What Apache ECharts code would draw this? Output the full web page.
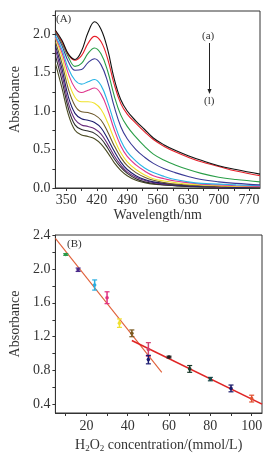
<!DOCTYPE html>
<html>
<head>
<meta charset="utf-8">
<script src="https://cdn.jsdelivr.net/npm/echarts@6/dist/echarts.min.js"></script>
<style>
html,body{margin:0;padding:0;background:#fff;}
#c{width:277px;height:455px;}
</style>
</head>
<body>
<div id="c"></div>
<script>
// ---- Panel A: UV-vis spectra ----
const wavelength = [325, 340, 355, 370, 385, 400, 415, 430, 445, 460, 475, 490, 510, 530, 550, 575, 600, 630, 660, 700, 740, 795];
const curveA = [2.05, 1.92, 1.74, 1.67, 1.78, 2.02, 2.16, 2.06, 1.80, 1.42, 1.15, 1.00, 0.87, 0.76, 0.65, 0.56, 0.49, 0.42, 0.36, 0.29, 0.24, 0.18];
const curveB = [2.04, 1.90, 1.73, 1.66, 1.72, 1.88, 1.97, 1.90, 1.68, 1.35, 1.10, 0.96, 0.84, 0.73, 0.63, 0.54, 0.47, 0.40, 0.34, 0.28, 0.22, 0.16];
const curveC = [2.03, 1.88, 1.70, 1.58, 1.62, 1.75, 1.82, 1.74, 1.52, 1.20, 0.95, 0.80, 0.66, 0.54, 0.44, 0.36, 0.30, 0.24, 0.19, 0.14, 0.11, 0.08];
const curveD = [2.02, 1.85, 1.64, 1.53, 1.54, 1.63, 1.68, 1.60, 1.38, 1.06, 0.80, 0.64, 0.50, 0.40, 0.32, 0.25, 0.20, 0.15, 0.11, 0.08, 0.06, 0.04];
const curveE = [1.98, 1.80, 1.55, 1.40, 1.35, 1.38, 1.41, 1.33, 1.12, 0.85, 0.62, 0.47, 0.35, 0.26, 0.20, 0.15, 0.11, 0.08, 0.06, 0.05, 0.04, 0.03];
const curveF = [1.96, 1.76, 1.48, 1.30, 1.24, 1.27, 1.30, 1.22, 1.02, 0.76, 0.55, 0.41, 0.30, 0.22, 0.16, 0.12, 0.09, 0.07, 0.05, 0.04, 0.03, 0.02];
const curveG = [1.95, 1.70, 1.38, 1.18, 1.12, 1.12, 1.10, 1.02, 0.85, 0.64, 0.46, 0.34, 0.24, 0.17, 0.12, 0.09, 0.07, 0.05, 0.04, 0.03, 0.02, 0.02];
const curveH = [1.90, 1.62, 1.28, 1.07, 0.99, 0.98, 0.95, 0.88, 0.73, 0.55, 0.40, 0.29, 0.20, 0.14, 0.10, 0.07, 0.05, 0.04, 0.03, 0.02, 0.02, 0.01];
const curveI = [1.85, 1.55, 1.18, 0.97, 0.90, 0.88, 0.85, 0.78, 0.64, 0.48, 0.34, 0.24, 0.16, 0.11, 0.08, 0.06, 0.04, 0.03, 0.02, 0.02, 0.01, 0.01];
const curveJ = [1.80, 1.48, 1.10, 0.89, 0.82, 0.80, 0.77, 0.70, 0.57, 0.42, 0.30, 0.21, 0.14, 0.10, 0.07, 0.05, 0.04, 0.03, 0.02, 0.01, 0.01, 0.01];
const curveK = [1.72, 1.40, 1.03, 0.82, 0.76, 0.74, 0.71, 0.64, 0.52, 0.38, 0.27, 0.19, 0.12, 0.08, 0.06, 0.04, 0.03, 0.02, 0.02, 0.01, 0.01, 0.01];
const curveL = [1.62, 1.30, 0.95, 0.75, 0.69, 0.67, 0.64, 0.57, 0.46, 0.33, 0.23, 0.16, 0.10, 0.07, 0.05, 0.04, 0.03, 0.02, 0.01, 0.01, 0.01, 0.00];
const curves = [curveA, curveB, curveC, curveD, curveE, curveF, curveG, curveH, curveI, curveJ, curveK, curveL];
const curveNames = ['(a)', '(b)', '(c)', '(d)', '(e)', '(f)', '(g)', '(h)', '(i)', '(j)', '(k)', '(l)'];
const curveColors = ['#111111', '#e8202a', '#2a9e48', '#3b3a96', '#28b4e6', '#e0358c', '#f0e22a', '#6e5a2c', '#1e1e6e', '#6a2c7c', '#2e2e2e', '#4a4a22'];
const xTicksA = [350, 420, 490, 560, 630, 700, 770];
const yTicksA = [0.0, 0.5, 1.0, 1.5, 2.0];

// ---- Panel B: calibration ----
const conc = [10, 16, 24, 30, 36, 42, 50, 50, 60, 70, 80, 90, 100];
const absB = [2.17, 1.99, 1.81, 1.66, 1.36, 1.24, 1.05, 0.93, 0.96, 0.82, 0.70, 0.59, 0.47];
const errB = [0.01, 0.02, 0.06, 0.07, 0.05, 0.04, 0.08, 0.05, 0.01, 0.04, 0.02, 0.04, 0.04];
const pointColors = ['#2a9a4a', '#4a2a8a', '#2aaee0', '#e03080', '#f0e030', '#7a5a20', '#d04070', '#1a1a70', '#202020', '#1a3a2a', '#1a4a4a', '#1a1a6a', '#e05030'];
const fit1X = [5, 56.5];
const fit1Y = [2.36, 0.78];
const fit2X = [42, 105];
const fit2Y = [1.155, 0.405];
const xTicksB = [20, 40, 60, 80, 100];
const yTicksB = [0.4, 0.8, 1.2, 1.6, 2.0, 2.4];

const FONT = '"Liberation Serif", "Times New Roman", serif';
const chart = echarts.init(document.getElementById('c'), null, {renderer: 'canvas'});

function range(a, b, s) { const r = []; for (let v = a; v <= b + 1e-9; v += s) r.push(+v.toFixed(4)); return r; }

const series = [];
curves.forEach((c, i) => {
  series.push({
    type: 'line', name: curveNames[i], xAxisIndex: 0, yAxisIndex: 0,
    data: wavelength.map((w, j) => [w, c[j]]),
    smooth: 0.4, showSymbol: false, symbol: 'none',
    lineStyle: {color: curveColors[i], width: 1.1},
    z: 20 - i
  });
});
series.push({
  type: 'line', xAxisIndex: 1, yAxisIndex: 1,
  data: fit1X.map((x, i) => [x, fit1Y[i]]),
  showSymbol: false, symbol: 'none', lineStyle: {color: '#e0603a', width: 1.1}, z: 5
});
series.push({
  type: 'line', xAxisIndex: 1, yAxisIndex: 1,
  data: fit2X.map((x, i) => [x, fit2Y[i]]),
  showSymbol: false, symbol: 'none', lineStyle: {color: '#e02424', width: 1.6}, z: 5
});
series.push({
  type: 'custom', xAxisIndex: 1, yAxisIndex: 1,
  data: conc.map((x, i) => ({value: [x, absB[i], errB[i]], itemStyle: {color: pointColors[i]}})),
  renderItem: function (params, api) {
    const x = api.value(0), y = api.value(1), e = api.value(2);
    const p = api.coord([x, y]);
    const t = api.coord([x, y + e]);
    const b = api.coord([x, y - e]);
    const col = api.visual('color');
    const w = 2.5;
    return {
      type: 'group',
      children: [
        {type: 'line', shape: {x1: t[0], y1: t[1], x2: b[0], y2: b[1]}, style: {stroke: col, lineWidth: 1.5}},
        {type: 'line', shape: {x1: t[0] - w, y1: t[1], x2: t[0] + w, y2: t[1]}, style: {stroke: col, lineWidth: 1.2}},
        {type: 'line', shape: {x1: b[0] - w, y1: b[1], x2: b[0] + w, y2: b[1]}, style: {stroke: col, lineWidth: 1.2}},
        {type: 'circle', shape: {cx: p[0], cy: p[1], r: 1.8}, style: {fill: col}}
      ]
    };
  },
  z: 10
});

const axisCommon = {
  axisLine: {show: true, onZero: false, lineStyle: {color: '#333', width: 1}},
  splitLine: {show: false},
  axisLabel: {color: '#333', fontFamily: FONT, fontSize: 14},
  nameTextStyle: {color: '#333', fontFamily: FONT, fontSize: 14}
};

chart.setOption({
  animation: false,
  backgroundColor: '#fff',
  grid: [
    {left: 51, top: 11, width: 209, height: 177, show: true, borderColor: '#333', borderWidth: 1, backgroundColor: '#fff'},
    {left: 50, top: 235, width: 212, height: 178, show: true, borderColor: '#333', borderWidth: 1, backgroundColor: '#fff'}
  ],
  xAxis: [
    Object.assign({}, axisCommon, {
      type: 'value', gridIndex: 0, min: 325, max: 795,
      name: 'Wavelength/nm', nameLocation: 'middle', nameGap: 19,
      axisTick: {show: true, length: 3, customValues: range(350, 770, 35), lineStyle: {color: '#333'}},
      axisLabel: Object.assign({}, axisCommon.axisLabel, {customValues: xTicksA, margin: 5})
    }),
    Object.assign({}, axisCommon, {
      type: 'value', gridIndex: 1, min: 5, max: 105,
      name: '{t|H}{s|2}{t|O}{s|2}{t| concentration/(mmol/L)}', nameLocation: 'middle', nameGap: 25,
      nameTextStyle: {rich: {
        t: {fontFamily: FONT, fontSize: 14, color: '#333'},
        s: {fontFamily: FONT, fontSize: 9, color: '#333', verticalAlign: 'bottom', padding: [6, 0, 0, 0]}
      }},
      axisTick: {show: true, length: 3, customValues: range(10, 100, 10), lineStyle: {color: '#333'}},
      axisLabel: Object.assign({}, axisCommon.axisLabel, {customValues: xTicksB, margin: 6})
    })
  ],
  yAxis: [
    Object.assign({}, axisCommon, {
      type: 'value', gridIndex: 0, min: 0, max: 2.3,
      name: 'Absorbance', nameLocation: 'middle', nameGap: 31,
      axisTick: {show: true, length: 3, customValues: range(0, 2.25, 0.25), lineStyle: {color: '#333'}},
      axisLabel: Object.assign({}, axisCommon.axisLabel, {customValues: yTicksA, margin: 5, formatter: v => v.toFixed(1)})
    }),
    Object.assign({}, axisCommon, {
      type: 'value', gridIndex: 1, min: 0.3, max: 2.4,
      name: 'Absorbance', nameLocation: 'middle', nameGap: 31,
      axisTick: {show: true, length: 3, customValues: range(0.4, 2.4, 0.2), lineStyle: {color: '#333'}},
      axisLabel: Object.assign({}, axisCommon.axisLabel, {customValues: yTicksB, margin: 5, formatter: v => v.toFixed(1)})
    })
  ],
  graphic: [
    {type: 'text', x: 56, y: 14, style: {text: '(A)', font: '11px ' + FONT, fill: '#333'}, z: 100},
    {type: 'text', x: 202, y: 31, style: {text: '(a)', font: '11px ' + FONT, fill: '#333'}, z: 100},
    {type: 'line', shape: {x1: 209.5, y1: 43, x2: 209.5, y2: 92}, style: {stroke: '#222', lineWidth: 1}, z: 100},
    {type: 'polygon', shape: {points: [[207.5, 89], [211.5, 89], [209.5, 94]]}, style: {fill: '#222'}, z: 100},
    {type: 'text', x: 204, y: 96, style: {text: '(l)', font: '11px ' + FONT, fill: '#333'}, z: 100},
    {type: 'text', x: 67, y: 239, style: {text: '(B)', font: '11px ' + FONT, fill: '#333'}, z: 100}
  ],
  series: series
});
</script>
</body>
</html>
